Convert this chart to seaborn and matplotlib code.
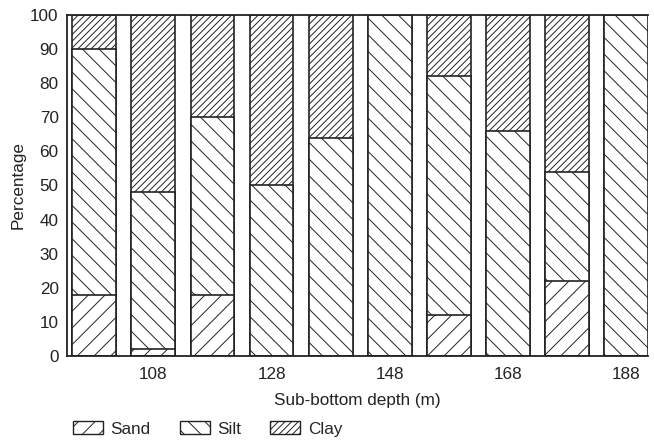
import numpy as np
import pandas as pd
import matplotlib
matplotlib.use("Agg")
import matplotlib.pyplot as plt
from matplotlib.patches import Patch
import seaborn as sns

# Grain-size composition by sub-bottom depth
depths = [98, 108, 118, 128, 138, 148, 158, 168, 178, 188]
sand = [18, 2, 18, 0, 0, 0, 12, 0, 22, 0]
silt = [72, 46, 52, 50, 64, 100, 70, 66, 32, 100]
clay = [10, 52, 30, 50, 36, 0, 18, 34, 46, 0]
labeled_ticks = [108, 128, 148, 168, 188]

sns.set_style("white")
plt.rcParams["font.family"] = ["Liberation Sans", "DejaVu Sans"]
plt.rcParams["hatch.linewidth"] = 0.7
plt.rcParams["hatch.color"] = "#222222"

FS = 12.3

df = pd.DataFrame({"depth": depths, "sand": sand, "silt": silt, "clay": clay})
df["top_sand"] = df["sand"]
df["top_silt"] = df["sand"] + df["silt"]
df["top_clay"] = df["sand"] + df["silt"] + df["clay"]

fig = plt.figure(figsize=(6.54, 4.41), dpi=100)
ax = fig.add_axes([0.1025, 0.193, 0.8885, 0.773])

layers = [("top_clay", "/////"), ("top_silt", "\\\\"), ("top_sand", "//")]
for col, hatch in layers:
    n_before = len(ax.patches)
    sns.barplot(data=df, x="depth", y=col, native_scale=True, width=0.74,
                color="white", edgecolor="#222222", linewidth=1.2,
                saturation=1, ax=ax, errorbar=None)
    for p in ax.patches[n_before:]:
        p.set_hatch(hatch)
        p.set_facecolor("white")

ax.set_xlim(93.4, 191.7)
ax.set_ylim(0, 100)
ax.set_yticks(np.arange(0, 101, 10))
ax.set_xticks(depths)
ax.set_xticklabels([str(d) if d in labeled_ticks else "" for d in depths])
ax.tick_params(axis="both", direction="out", length=5, width=1.2,
               labelsize=FS, color="#222222", labelcolor="#222222")
ax.tick_params(axis="x", length=4, pad=4)
ax.tick_params(axis="y", pad=1)
for side in ["left", "bottom", "top"]:
    ax.spines[side].set_linewidth(1.3)
    ax.spines[side].set_color("#222222")
ax.spines["right"].set_visible(False)

ax.set_ylabel("Percentage", fontsize=FS, color="#222222", labelpad=3)
ax.set_xlabel("Sub-bottom depth (m)", fontsize=FS, color="#222222", labelpad=8)

handles = [Patch(facecolor="white", edgecolor="#222222", hatch="//", label="Sand"),
           Patch(facecolor="white", edgecolor="#222222", hatch="\\\\", label="Silt"),
           Patch(facecolor="white", edgecolor="#222222", hatch="/////", label="Clay")]
fig.legend(handles=handles, loc="lower left", bbox_to_anchor=(0.088, -0.025),
           ncol=3, frameon=False, fontsize=FS, handlelength=1.75,
           handleheight=0.75, columnspacing=1.7, handletextpad=0.45)

fig.savefig("out.png", dpi=100)
